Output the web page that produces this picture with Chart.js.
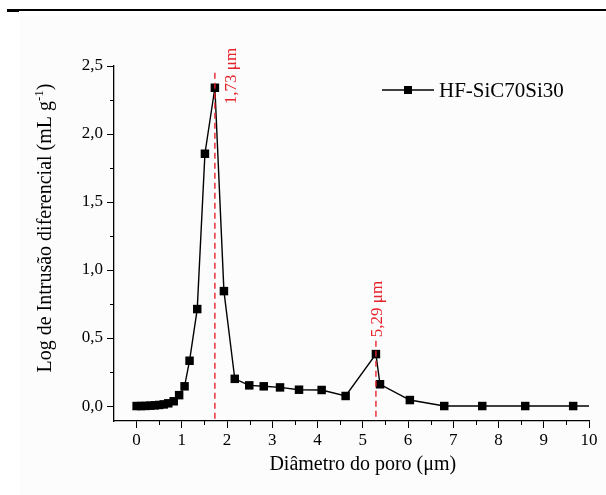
<!DOCTYPE html>
<html>
<head>
<meta charset="utf-8">
<script src="https://cdn.jsdelivr.net/npm/chart.js@4.4.1/dist/chart.umd.min.js"></script>
<style>
  html, body { margin: 0; padding: 0; background: #ffffff; }
  #wrap { position: relative; width: 606px; height: 495px; overflow: hidden; }
  #paper { position: absolute; left: 20px; top: 16px; right: 0; bottom: 0; background: #fcfcfc; }
  #rule { position: absolute; left: 7px; top: 9px; right: 0; height: 2px; background: #000; }
  #rule2 { position: absolute; left: 7px; top: 9px; width: 12px; height: 3px; background: #000; }
  canvas { position: absolute; left: 0; top: 0; }
</style>
</head>
<body>
<div id="wrap">
  <div id="paper"></div>
  <div id="rule"></div>
  <div id="rule2"></div>
  <canvas id="chart" width="606" height="495"></canvas>
</div>
<script>
// pore diameter (um) and log differential intrusion (mL/g)
const diameters = [0, 0.1, 0.2, 0.3, 0.4, 0.5, 0.6, 0.7, 0.82, 0.94, 1.06, 1.17, 1.34, 1.51, 1.73, 1.93,
                   2.17, 2.49, 2.81, 3.17, 3.59, 4.09, 4.62, 5.29, 5.38, 6.04, 6.80, 7.64, 8.59, 9.65, 10.9];
const intrusion = [0, 0, 0.001, 0.003, 0.005, 0.008, 0.012, 0.02, 0.035, 0.08, 0.145, 0.333, 0.713, 1.855, 2.34, 0.845,
                   0.2, 0.152, 0.145, 0.137, 0.12, 0.118, 0.074, 0.382, 0.16, 0.044, 0, 0, 0, 0, 0];
const seriesName = 'HF-SiC70Si30';

const xTicks = [0, 1, 2, 3, 4, 5, 6, 7, 8, 9, 10];
const yTicks = [0, 0.5, 1.0, 1.5, 2.0, 2.5];

// red marker lines for the peaks
const peakX = [1.73, 5.29];
const peakTop = [2.45, 0.48];
const peakLabels = ['1,73 μm', '5,29 μm'];

const serif = "'Liberation Serif', 'Times New Roman', serif";
const red = '#e6232b';

function comma(v, d) {
    return v.toFixed(d).replace('.', ',');
}

const decor = {
    id: 'decor',
    afterDatasetsDraw(chart) {
        const ctx = chart.ctx;
        const xs = chart.scales.x, ys = chart.scales.y;
        const area = chart.chartArea;
        ctx.save();

        // minor ticks
        ctx.strokeStyle = '#000';
        ctx.lineWidth = 1;
        ctx.beginPath();
        for (let v = 0.5; v < 10; v += 1) {
            const px = Math.round(xs.getPixelForValue(v)) + 0.5;
            ctx.moveTo(px, area.bottom);
            ctx.lineTo(px, area.bottom + 4);
        }
        for (let v = 0.25; v < 2.5; v += 0.5) {
            const py = Math.round(ys.getPixelForValue(v)) + 0.5;
            ctx.moveTo(area.left, py);
            ctx.lineTo(area.left - 4, py);
        }
        ctx.stroke();

        // dashed red lines + labels
        ctx.strokeStyle = red;
        ctx.lineWidth = 1.4;
        ctx.setLineDash([6, 4]);
        for (let i = 0; i < peakX.length; i++) {
            const px = xs.getPixelForValue(peakX[i]);
            ctx.beginPath();
            ctx.moveTo(px, ys.getPixelForValue(peakTop[i]));
            ctx.lineTo(px, area.bottom);
            ctx.stroke();
        }
        ctx.setLineDash([]);
        ctx.fillStyle = red;
        ctx.font = '17px ' + serif;
        ctx.textAlign = 'center';
        ctx.textBaseline = 'middle';
        const labPos = [[17, 76], [2, 309]];
        for (let i = 0; i < peakX.length; i++) {
            const px = xs.getPixelForValue(peakX[i]) + labPos[i][0];
            ctx.save();
            ctx.translate(px, labPos[i][1]);
            ctx.rotate(-Math.PI / 2);
            ctx.fillText(peakLabels[i], 0, 0);
            ctx.restore();
        }

        // legend
        const ly = 90;
        ctx.strokeStyle = '#000';
        ctx.lineWidth = 1.3;
        ctx.beginPath();
        ctx.moveTo(382, ly);
        ctx.lineTo(434, ly);
        ctx.stroke();
        ctx.fillStyle = '#000';
        ctx.fillRect(404, ly - 4, 8, 8);
        ctx.font = '21px ' + serif;
        ctx.textAlign = 'left';
        ctx.fillText(seriesName, 439, ly + 1);

        // x title
        ctx.font = '20px ' + serif;
        ctx.textAlign = 'center';
        ctx.fillText('Diâmetro do poro (μm)', (xs.getPixelForValue(0) + xs.getPixelForValue(10)) / 2 + 0, 465);

        // y title with superscript
        const main = 'Log de Intrusão diferencial (mL g';
        const sup = '-1';
        const tail = ')';
        ctx.font = '20px ' + serif;
        const wMain = ctx.measureText(main).width;
        const wTail = ctx.measureText(tail).width;
        ctx.font = '13px ' + serif;
        const wSup = ctx.measureText(sup).width;
        const total = wMain + wSup + wTail;
        ctx.save();
        ctx.translate(44, 228);
        ctx.rotate(-Math.PI / 2);
        ctx.textAlign = 'left';
        ctx.textBaseline = 'alphabetic';
        let x0 = -total / 2;
        ctx.font = '20px ' + serif;
        ctx.fillText(main, x0, 7);
        ctx.font = '13px ' + serif;
        ctx.fillText(sup, x0 + wMain, -1);
        ctx.font = '20px ' + serif;
        ctx.fillText(tail, x0 + wMain + wSup, 7);
        ctx.restore();

        ctx.restore();
    }
};

new Chart(document.getElementById('chart'), {
    type: 'scatter',
    data: {
        datasets: [{
            label: seriesName,
            data: diameters.map((d, i) => ({ x: d, y: intrusion[i] })),
            showLine: true,
            borderColor: '#000',
            borderWidth: 1.4,
            backgroundColor: '#000',
            pointStyle: 'rect',
            pointRadius: 6,
            pointHoverRadius: 6,
            pointBorderWidth: 0,
            clip: { left: 10, top: 10, right: 0, bottom: 10 }
        }]
    },
    options: {
        responsive: false,
        animation: false,
        events: [],
        layout: { padding: { left: 0, top: 66, right: 17, bottom: 0 } },
        plugins: {
            legend: { display: false },
            tooltip: { enabled: false }
        },
        scales: {
            x: {
                type: 'linear',
                min: -0.5,
                max: 10,
                afterBuildTicks: (s) => { s.ticks = xTicks.map(v => ({ value: v })); },
                afterFit: (s) => { s.height = 74; },
                border: { color: '#000', width: 1.3 },
                grid: { drawOnChartArea: false, color: '#000', tickLength: 7, tickWidth: 1 },
                ticks: {
                    color: '#000',
                    font: { family: serif, size: 17 },
                    padding: 2,
                    maxRotation: 0,
                    callback: (v) => String(v)
                }
            },
            y: {
                type: 'linear',
                min: -0.11,
                max: 2.5,
                afterBuildTicks: (s) => { s.ticks = yTicks.map(v => ({ value: v })); },
                afterFit: (s) => { s.width = 114; },
                border: { color: '#000', width: 1.3 },
                grid: { drawOnChartArea: false, color: '#000', tickLength: 7, tickWidth: 1 },
                ticks: {
                    color: '#000',
                    font: { family: serif, size: 17 },
                    padding: 4,
                    callback: (v) => comma(v, 1)
                }
            }
        }
    },
    plugins: [decor]
});
</script>
</body>
</html>
